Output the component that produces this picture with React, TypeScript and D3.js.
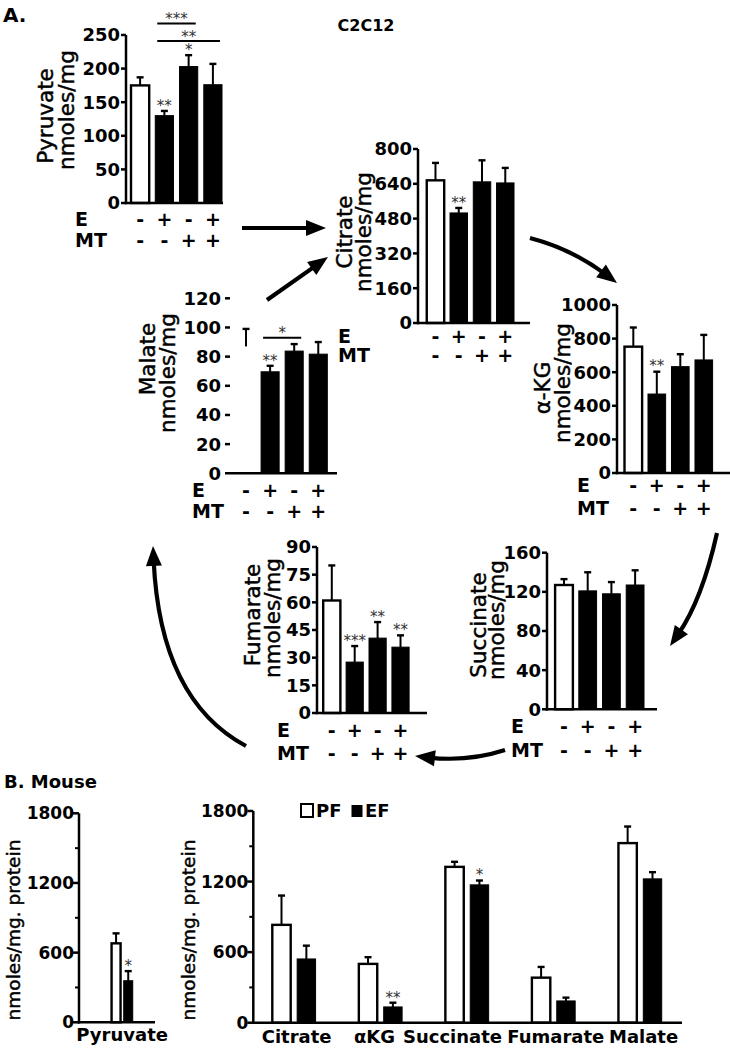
import React from 'react';
import * as d3 from 'd3';

const FONT = "'DejaVu Sans', sans-serif";

// ---------------- data: panel A (C2C12) ----------------
const groups = ['Ctrl', 'E', 'MT', 'E+MT'];
const eSigns = ['-', '+', '-', '+'];
const mtSigns = ['-', '-', '+', '+'];

const pyruvateMean = [175, 130, 203, 176];
const pyruvateUpper = [187, 137, 220, 207];
const pyruvateStars = ['', '**', '*', ''];
const pyruvateTicks = [0, 50, 100, 150, 200, 250];
const pyruvateBrackets = [
  { from: 1, to: 2, level: 267, label: '***' },
  { from: 1, to: 3, level: 241, label: '**' },
];

const citrateMean = [656, 506, 649, 644];
const citrateUpper = [736, 529, 748, 713];
const citrateStars = ['', '**', '', ''];
const citrateTicks = [0, 160, 320, 480, 640, 800];

const akgMean = [752, 470, 633, 673];
const akgUpper = [866, 603, 707, 822];
const akgStars = ['', '**', '', ''];
const akgTicks = [0, 200, 400, 600, 800, 1000];

const succinateMean = [127, 121, 118, 127];
const succinateUpper = [133, 140, 130, 142];
const succinateStars = ['', '', '', ''];
const succinateTicks = [0, 40, 80, 120, 160];

const fumarateMean = [61, 27.6, 40.6, 35.7];
const fumarateUpper = [80, 36.3, 49.3, 42.1];
const fumarateStars = ['', '***', '**', '**'];
const fumarateTicks = [0, 15, 30, 45, 60, 75, 90];

const malateMean = [87, 69.6, 83.8, 81.7];
const malateUpper = [99, 73.7, 88.6, 90];
const malateBarShown = [false, true, true, true];
const malateStars = ['', '**', '', ''];
const malateTicks = [0, 20, 40, 60, 80, 100, 120];
const malateBrackets = [{ from: 1, to: 2, level: 93, label: '*' }];

// ---------------- data: panel B (Mouse) ----------------
const mouseTicks = [0, 600, 1200, 1800];
const mouseMinorTicks = [300, 900, 1500];
const series = ['PF', 'EF'];

const mousePyrCats = ['Pyruvate'];
const mousePyrPF = [680];
const mousePyrPFUpper = [766];
const mousePyrEF = [358];
const mousePyrEFUpper = [441];
const mousePyrEFStars = ['*'];

const mouseCats = ['Citrate', 'αKG', 'Succinate', 'Fumarate', 'Malate'];
const mousePF = [832, 500, 1325, 383, 1527];
const mousePFUpper = [1081, 557, 1368, 474, 1668];
const mouseEF = [542, 134, 1172, 185, 1223];
const mouseEFUpper = [655, 170, 1209, 213, 1280];
const mouseEFStars = ['', '**', '*', '', ''];

// ---------------- components ----------------
type Bracket = { from: number; to: number; level: number; label: string };

function Star({ x, y, label }: { x: number; y: number; label: string }) {
  if (!label) return null;
  return (
    <text x={x} y={y + 7.8} fontSize={15} textAnchor="middle" fill="#333" fontFamily={FONT}>
      {label}
    </text>
  );
}

function YLabel({ x, y, text, size }: { x: number; y: number; text: string; size: number }) {
  return (
    <text
      transform={`translate(${x},${y}) rotate(-90)`}
      textAnchor="middle"
      dominantBaseline="central"
      fontSize={size}
      fontFamily={FONT}
      stroke="#000"
      strokeWidth={0.45}
    >
      {text}
    </text>
  );
}

function BarPanel(p: any) {
  const y = d3.scaleLinear().domain([0, p.max]).range([p.y0, p.yTop]);
  const x = d3.scaleBand<string>().domain(groups).range([p.barL, p.barR]).paddingInner(0.25).paddingOuter(0);
  const bw = x.bandwidth();
  const shown: boolean[] = p.shown || groups.map(() => true);
  const brackets: Bracket[] = p.brackets || [];
  return (
    <g>
      {!p.dashTicks && (
        <line x1={p.axisX} x2={p.axisX} y1={p.y0 + 1.2} y2={y(p.max)} stroke="#000" strokeWidth={2.5} />
      )}
      {p.ticks.map((t: number) => (
        <g key={t}>
          {!p.dashTicks && (
            <line x1={p.axisX - 5} x2={p.axisX} y1={y(t)} y2={y(t)} stroke="#000" strokeWidth={2.5} />
          )}
          {p.dashTicks && t !== 0 && (
            <line x1={p.axisX} x2={p.axisX + 5} y1={y(t)} y2={y(t)} stroke="#000" strokeWidth={2.5} />
          )}
          <text
            x={p.dashTicks ? p.axisX - 4 : p.axisX - 6}
            y={y(t)}
            dy="0.36em"
            textAnchor="end"
            fontSize={18}
            fontWeight="bold"
            fontFamily={FONT}
          >
            {t}
          </text>
        </g>
      ))}
      {groups.map((g, i) => {
        const cx = (x(g) as number) + bw / 2;
        const top = y(p.mean[i]);
        const up = y(p.upper[i]);
        return (
          <g key={g}>
            {shown[i] && (
              <rect
                x={x(g)}
                y={top}
                width={bw}
                height={p.y0 - top}
                fill={i === 0 ? '#fff' : '#000'}
                stroke="#000"
                strokeWidth={i === 0 ? 2.4 : 1}
              />
            )}
            <line x1={cx} x2={cx} y1={top} y2={up} stroke="#000" strokeWidth={2} />
            <line x1={cx - 3.5} x2={cx + 3.5} y1={up} y2={up} stroke="#000" strokeWidth={2.4} />
            <Star x={cx} y={up - 8} label={p.stars[i]} />
            <text x={cx} y={p.eY} textAnchor="middle" fontSize={19} fontWeight="bold" fontFamily={FONT}>
              {eSigns[i]}
            </text>
            <text x={cx} y={p.mtY} textAnchor="middle" fontSize={19} fontWeight="bold" fontFamily={FONT}>
              {mtSigns[i]}
            </text>
          </g>
        );
      })}
      <line x1={p.axisX - (p.dashTicks ? 0 : 1.2)} x2={p.axisEnd} y1={p.y0} y2={p.y0} stroke="#000" strokeWidth={2.5} />
      {brackets.map((b, k) => {
        const x1 = (x(groups[b.from]) as number) + 2;
        const x2 = (x(groups[b.to]) as number) + bw - 2;
        const by = y(b.level);
        return (
          <g key={k}>
            <line x1={x1} x2={x2} y1={by} y2={by} stroke="#000" strokeWidth={2} />
            <Star x={(x1 + x2) / 2} y={by - 7} label={b.label} />
          </g>
        );
      })}
      <text x={p.labelX} y={p.eY} fontSize={19} fontWeight="bold" fontFamily={FONT}>E</text>
      <text x={p.labelX} y={p.mtY} fontSize={19} fontWeight="bold" fontFamily={FONT}>MT</text>
      <YLabel x={p.lab1[1]} y={p.lab1[2]} text={p.lab1[0]} size={21.5} />
      <YLabel x={p.lab2[0]} y={p.lab2[1]} text="nmoles/mg" size={21.5} />
    </g>
  );
}

function MousePanel(p: any) {
  const y = d3.scaleLinear().domain([0, 1800]).range([p.y0, p.yTop]);
  const x = d3.scaleBand<string>().domain(p.cats).range([p.barL, p.barR]).paddingInner(0.5).paddingOuter(0);
  const xi = d3.scaleBand<string>().domain(series).range([0, x.bandwidth()]).paddingInner(0.26);
  const bw = xi.bandwidth();
  return (
    <g>
      <line x1={p.axisX} x2={p.axisX} y1={p.y0 + 1.2} y2={y(1800)} stroke="#000" strokeWidth={2.5} />
      {mouseTicks.map((t) => (
        <g key={t}>
          <line x1={p.axisX - 6} x2={p.axisX} y1={y(t)} y2={y(t)} stroke="#000" strokeWidth={2.5} />
          <text x={p.axisX - 5} y={y(t)} dy="0.36em" textAnchor="end" fontSize={p.tickSize} fontWeight="bold" fontFamily={FONT}>
            {t}
          </text>
        </g>
      ))}
      {mouseMinorTicks.map((t) => (
        <line key={t} x1={p.axisX - 4} x2={p.axisX} y1={y(t)} y2={y(t)} stroke="#000" strokeWidth={2} />
      ))}
      {p.cats.map((c: string, i: number) => {
        const x0 = x(c) as number;
        const vals = [
          { s: 'PF', v: p.pf[i], u: p.pfUp[i], star: '' },
          { s: 'EF', v: p.ef[i], u: p.efUp[i], star: p.efStars[i] },
        ];
        return (
          <g key={c}>
            {vals.map((d) => {
              const bx = x0 + (xi(d.s) as number);
              const cx = bx + bw / 2;
              const top = y(d.v);
              const up = y(d.u);
              return (
                <g key={d.s}>
                  <rect
                    x={bx}
                    y={top}
                    width={bw}
                    height={p.y0 - top}
                    fill={d.s === 'PF' ? '#fff' : '#000'}
                    stroke="#000"
                    strokeWidth={d.s === 'PF' ? 2.4 : 1}
                  />
                  <line x1={cx} x2={cx} y1={top} y2={up} stroke="#000" strokeWidth={2} />
                  <line x1={cx - 3.5} x2={cx + 3.5} y1={up} y2={up} stroke="#000" strokeWidth={2.4} />
                  <Star x={cx} y={up - 8} label={d.star} />
                </g>
              );
            })}
            <text
              x={x0 + x.bandwidth() / 2 + (p.labelNudge ? p.labelNudge[i] : 0)}
              y={p.labelY}
              textAnchor="middle"
              fontSize={18}
              fontWeight="bold"
              fontFamily={FONT}
            >
              {c}
            </text>
          </g>
        );
      })}
      <line x1={p.axisX - 1.2} x2={p.axisEnd} y1={p.y0} y2={p.y0} stroke="#000" strokeWidth={2.5} />
      <YLabel x={p.ylabX} y={p.ylabY} text="nmoles/mg. protein" size={18.5} />
    </g>
  );
}

type Pt = [number, number];
function Arrow({ p0, c, p2 }: { p0: Pt; c: Pt; p2: Pt }) {
  const L = 20;
  const W = 16;
  const dx = p2[0] - c[0];
  const dy = p2[1] - c[1];
  const len = Math.hypot(dx, dy);
  const ux = dx / len;
  const uy = dy / len;
  const nx = -uy;
  const ny = ux;
  const end: Pt = [p2[0] - ux * L * 0.7, p2[1] - uy * L * 0.7];
  const bx = p2[0] - ux * L;
  const by = p2[1] - uy * L;
  const path = d3.path();
  path.moveTo(p0[0], p0[1]);
  path.quadraticCurveTo(c[0], c[1], end[0], end[1]);
  const tri = `M${p2[0]},${p2[1]} L${bx + (nx * W) / 2},${by + (ny * W) / 2} L${bx - (nx * W) / 2},${by - (ny * W) / 2} Z`;
  return (
    <g>
      <path d={path.toString()} fill="none" stroke="#000" strokeWidth={4.2} />
      <path d={tri} fill="#000" />
    </g>
  );
}

const arrowPaths: { p0: Pt; c: Pt; p2: Pt }[] = [
  { p0: [242, 228], c: [284, 228], p2: [326, 228] },
  { p0: [267, 300], c: [297, 279], p2: [328, 257] },
  { p0: [530, 238], c: [572, 249], p2: [617, 283] },
  { p0: [717, 533], c: [702, 600], p2: [670, 646] },
  { p0: [505, 750], c: [468, 762], p2: [415, 756] },
  { p0: [246, 746], c: [160, 700], p2: [153, 546] },
];

export default function App() {
  return (
    <svg
      width={730}
      height={1050}
      style={{ position: 'absolute', left: 0, top: 0, background: '#fff' }}
      fontFamily={FONT}
    >
      <rect width={730} height={1050} fill="#fff" />
      <text x={3} y={22} fontSize={20} fontWeight="bold">A.</text>
      <text x={366} y={31} fontSize={16} fontWeight="bold" textAnchor="middle">C2C12</text>

      <BarPanel
        axisX={126} barL={131} barR={222} axisEnd={223} y0={203} yTop={35} max={250}
        ticks={pyruvateTicks} mean={pyruvateMean} upper={pyruvateUpper} stars={pyruvateStars}
        brackets={pyruvateBrackets}
        lab1={['Pyruvate', 45.5, 116]} lab2={[66, 110]} labelX={75} eY={226} mtY={247}
      />
      <BarPanel
        axisX={418} barL={426.75} barR={514} axisEnd={530} y0={323} yTop={149} max={800}
        ticks={citrateTicks} mean={citrateMean} upper={citrateUpper} stars={citrateStars}
        lab1={['Citrate', 344, 232]} lab2={[363, 232]} labelX={338} eY={343} mtY={362}
      />
      <BarPanel
        axisX={617} barL={624.5} barR={712.6} axisEnd={730} y0={473} yTop={305} max={1000}
        ticks={akgTicks} mean={akgMean} upper={akgUpper} stars={akgStars}
        lab1={['α-KG', 542.5, 388]} lab2={[562.5, 383]} labelX={577} eY={492} mtY={515}
      />
      <BarPanel
        axisX={225} barL={237} barR={327.3} axisEnd={337} y0={473.3} yTop={298.3} max={120}
        dashTicks
        ticks={malateTicks} mean={malateMean} upper={malateUpper} stars={malateStars}
        shown={malateBarShown} brackets={malateBrackets}
        lab1={['Malate', 147, 359]} lab2={[167, 373]} labelX={192} eY={497} mtY={518}
      />
      <BarPanel
        axisX={317} barL={323.2} barR={409.1} axisEnd={427} y0={713} yTop={547} max={90}
        ticks={fumarateTicks} mean={fumarateMean} upper={fumarateUpper} stars={fumarateStars}
        lab1={['Fumarate', 252, 615]} lab2={[272, 618]} labelX={277} eY={737} mtY={760}
      />
      <BarPanel
        axisX={547} barL={555.1} barR={644} axisEnd={657} y0={709.3} yTop={552.7} max={160}
        ticks={succinateTicks} mean={succinateMean} upper={succinateUpper} stars={succinateStars}
        lab1={['Succinate', 478, 625]} lab2={[496, 620]} labelX={511} eY={733} mtY={757}
      />

      {arrowPaths.map((a, i) => (
        <Arrow key={i} {...a} />
      ))}

      <text x={4} y={788} fontSize={18} fontWeight="bold">B. Mouse</text>

      <MousePanel
        cats={mousePyrCats} pf={mousePyrPF} pfUp={mousePyrPFUpper} ef={mousePyrEF} efUp={mousePyrEFUpper}
        efStars={mousePyrEFStars}
        axisX={79} barL={101} barR={143.3} axisEnd={155} y0={1022.3} yTop={813.3} tickSize={17}
        labelY={1041} ylabX={13} ylabY={930}
      />
      <MousePanel
        cats={mouseCats} pf={mousePF} pfUp={mousePFUpper} ef={mouseEF} efUp={mouseEFUpper}
        efStars={mouseEFStars}
        axisX={253.3} barL={272.3} barR={661.7} axisEnd={682} y0={1022.7} yTop={811} tickSize={17}
        labelY={1043} ylabX={188} ylabY={930} labelNudge={[2.7, -6, -14.5, 2.3, 3.5]}
      />

      <rect x={301} y={804} width={12} height={13} fill="#fff" stroke="#000" strokeWidth={2} />
      <text x={316} y={817} fontSize={18} fontWeight="bold">PF</text>
      <rect x={351.5} y={805} width={11} height={12} fill="#000" />
      <text x={365} y={817} fontSize={18} fontWeight="bold">EF</text>
    </svg>
  );
}
